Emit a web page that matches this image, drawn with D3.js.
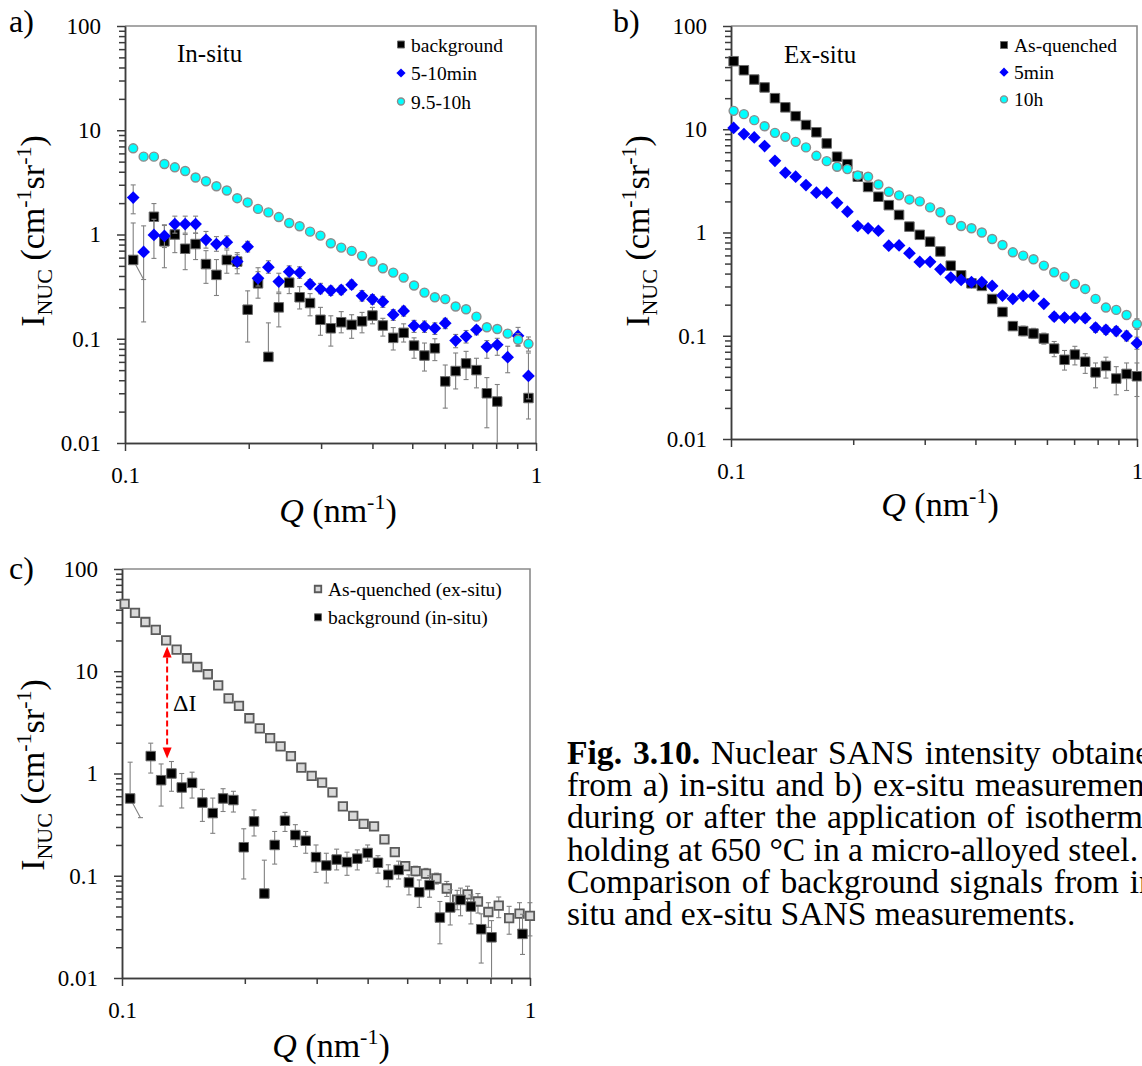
<!DOCTYPE html>
<html>
<head>
<meta charset="utf-8">
<script src="https://cdn.jsdelivr.net/npm/d3@7"></script>
<style>
  body { margin: 0; background: #fff; }
  svg { display: block; }
  svg text { font-family: "Liberation Serif", "Times New Roman", serif; }
</style>
</head>
<body>
<svg id="fig" width="1142" height="1066" font-family="Liberation Serif, Times New Roman, serif"></svg>
<script>
// ---- scattering vector Q (nm^-1) ----
const Q_IN_SITU = [0.1047,0.1110,0.1176,0.1247,0.1322,0.1401,0.1485,0.1574,0.1669,0.1769,
  0.1875,0.1988,0.2107,0.2233,0.2367,0.2509,0.2660,0.2820,0.2989,0.3168,
  0.3358,0.3560,0.3773,0.4000,0.4240,0.4494,0.4764,0.5050,0.5353,0.5674,
  0.6014,0.6375,0.6758,0.7163,0.7593,0.8049,0.8532,0.9043,0.9586];
const Q_EX_SITU = [0.1015,0.1076,0.1141,0.1210,0.1283,0.1361,0.1443,0.1530,0.1623,0.1721,
  0.1825,0.1935,0.2052,0.2176,0.2307,0.2447,0.2594,0.2751,0.2917,0.3093,
  0.3280,0.3478,0.3688,0.3911,0.4147,0.4398,0.4663,0.4945,0.5244,0.5560,
  0.5896,0.6252,0.6630,0.7030,0.7455,0.7905,0.8383,0.8889,0.9426,0.9995];

// ---- in-situ: background ----
const BG_IN_SITU = [0.57,null,1.48,0.86,1.0,0.73,0.81,0.52,0.41,0.57,
  0.55,0.19,0.34,0.067,0.20,0.345,0.25,0.22,0.152,0.126,
  0.144,0.136,0.147,0.167,0.134,0.102,0.114,0.086,0.069,0.081,
  0.039,0.049,0.058,0.050,0.030,0.025,null,null,0.027];
const BG_IN_SITU_LO = [null,null,1.01,0.48,0.67,0.46,0.575,0.34,0.26,0.425,
  0.42,0.093,0.245,null,0.13,0.271,0.193,0.166,0.108,0.085,
  0.114,0.101,0.114,0.139,0.106,0.078,0.093,0.065,0.049,0.0617,
  0.0216,0.033,0.0406,0.0338,0.014,0.005,null,null,0.017];
const BG_IN_SITU_HI = [1.29,null,1.98,1.24,1.31,1.0,1.03,0.70,0.575,0.71,
  0.67,0.288,0.44,0.142,0.271,0.416,0.316,0.271,0.20,0.166,
  0.182,0.17,0.179,0.2,0.157,0.128,0.139,0.102,0.091,0.1,
  0.056,0.073,0.0757,0.065,0.0424,0.0364,null,null,0.042];
// lower end of the first background point's error bar (drawn towards the 2nd Q)
const BG_FIRST_LOWER_END = 0.37;

// ---- in-situ: 5-10 min ----
const MIN5_10 = [2.26,0.68,0.99,0.97,1.26,1.26,1.26,0.89,0.81,0.845,
  0.55,0.765,0.38,0.486,0.354,0.44,0.43,0.334,0.30,0.29,
  0.294,0.33,0.258,0.239,0.227,0.17,0.185,0.133,0.131,0.126,
  0.141,0.096,0.105,0.122,0.0836,0.0875,0.0665,0.1066,0.044];
const MIN5_10_LO = [1.58,0.145,0.59,0.75,1.03,1.03,1.03,0.74,0.69,0.74,
  0.47,0.68,0.32,0.425,0.28,0.39,0.38,0.30,0.27,0.26,
  0.265,0.30,0.23,0.215,0.20,0.15,0.165,0.115,0.115,0.11,
  0.125,0.082,0.091,0.109,0.065,0.0694,0.0472,0.0847,0.0265];
const MIN5_10_HI = [2.99,1.21,1.40,1.22,1.50,1.50,1.50,1.07,0.955,0.97,
  0.64,0.86,0.48,0.56,0.425,0.50,0.49,0.37,0.34,0.32,
  0.325,0.365,0.29,0.265,0.255,0.19,0.205,0.15,0.148,0.142,
  0.157,0.11,0.12,0.133,0.096,0.101,0.0847,0.1285,0.073];

// ---- in-situ: 9.5-10 h ----
const H9_5_10 = [6.71,5.58,5.58,4.75,4.41,4.07,3.52,3.24,2.90,2.64,
  2.23,2.03,1.76,1.63,1.47,1.29,1.20,1.065,0.976,0.825,
  0.749,0.697,0.624,0.55,0.475,0.431,0.386,0.324,0.277,0.25,
  0.24,0.204,0.192,0.163,0.129,0.124,0.112,0.0977,0.0894];
const H9_5_10_LO = [null,null,null,null,null,null,null,null,null,null,
  null,null,null,null,null,null,null,null,null,null,
  null,null,null,null,null,null,null,null,null,null,
  null,null,null,null,0.12,0.115,0.104,0.086,0.076];
const H9_5_10_HI = [null,null,null,null,null,null,null,null,null,null,
  null,null,null,null,null,null,null,null,null,null,
  null,null,null,null,null,null,null,null,null,null,
  null,null,null,null,0.138,0.133,0.121,0.112,0.104];

// ---- ex-situ: as-quenched ----
const AS_QUENCHED = [45.6,37.3,30.3,25.4,20.0,16.3,13.4,11.0,9.35,7.29,
  5.42,4.59,3.47,2.76,2.22,1.84,1.48,1.14,0.95,0.815,
  0.655,0.477,0.385,0.322,0.304,0.227,0.17,0.124,0.111,0.105,
  0.094,0.075,0.0585,0.0657,0.056,0.0442,0.051,0.0385,0.0427,0.0405];
const AS_QUENCHED_LO = [null,null,null,null,null,null,null,null,null,null,
  null,null,null,null,null,null,null,null,null,null,
  null,null,null,null,0.29,0.215,0.158,0.113,0.1,0.094,
  0.083,0.0627,0.0465,0.0522,0.0432,0.0313,0.0389,0.0268,0.0295,0.0258];
const AS_QUENCHED_HI = [null,null,null,null,null,null,null,null,null,null,
  null,null,null,null,null,null,null,null,null,null,
  null,null,null,null,0.32,0.24,0.183,0.137,0.124,0.118,
  0.106,0.088,0.072,0.079,0.067,0.0545,0.062,0.0502,0.0545,0.0545];

// ---- ex-situ: 5 min ----
const MIN5 = [10.3,8.97,8.33,6.87,4.95,3.79,3.47,2.88,2.43,2.43,
  1.94,1.59,1.156,1.098,1.04,0.745,0.749,0.63,0.519,0.52,
  0.44,0.366,0.347,0.33,0.33,0.304,0.245,0.228,0.243,0.243,
  0.204,0.153,0.15,0.15,0.148,0.120,0.114,0.111,0.0997,0.0848];
const MIN5_LO = [null,null,null,null,null,null,null,null,null,null,
  null,null,null,null,null,null,null,null,null,null,
  null,null,null,null,null,null,null,null,null,null,
  null,0.14,0.138,0.138,0.135,0.108,0.103,0.1,0.089,0.074];
const MIN5_HI = [null,null,null,null,null,null,null,null,null,null,
  null,null,null,null,null,null,null,null,null,null,
  null,null,null,null,null,null,null,null,null,null,
  null,0.167,0.163,0.163,0.162,0.132,0.126,0.123,0.111,0.097];

// ---- ex-situ: 10 h ----
const H10 = [15.07,14.0,12.25,10.7,9.23,8.44,7.55,6.67,5.53,4.91,
  4.33,4.11,3.57,3.47,2.92,2.48,2.29,2.09,2.00,1.75,
  1.57,1.32,1.156,1.10,1.0,0.865,0.757,0.643,0.597,0.551,
  0.478,0.412,0.374,0.318,0.284,0.2275,0.1875,0.178,0.159,0.130];
const H10_LO = [null,null,null,null,null,null,null,null,null,null,
  null,null,null,null,null,null,null,null,null,null,
  null,null,null,null,null,null,null,null,null,null,
  null,null,null,null,null,null,0.178,0.168,0.148,0.115];
const H10_HI = [null,null,null,null,null,null,null,null,null,null,
  null,null,null,null,null,null,null,null,null,null,
  null,null,null,null,null,null,null,null,null,null,
  null,null,null,null,null,null,0.198,0.19,0.172,0.146];

// ---- ΔI marker (panel c) ----
const DELTA_I_Q = 0.129;
const DELTA_I_TOP = 17.5;
const DELTA_I_BOTTOM = 1.4;

// ---- axes ----
const X_DOMAIN = [0.1, 1];
const Y_DOMAIN = [0.01, 100];
const X_MAJOR = [0.1, 1];
const X_MAJOR_LABELS = ["0.1", "1"];
const Y_MAJOR = [0.01, 0.1, 1, 10, 100];
const Y_MAJOR_LABELS = ["0.01", "0.1", "1", "10", "100"];

const CAPTION = [
  [["Fig. 3.10.", true], [" Nuclear SANS intensity obtained", false]],
  [["from a) in-situ and b) ex-situ measurements", false]],
  [["during or after the application of isothermal", false]],
  [["holding at 650 °C in a micro-alloyed steel. c)", false]],
  [["Comparison of background signals from in-", false]],
  [["situ and ex-situ SANS measurements.", false]]
];

const SERIF = "Liberation Serif, Times New Roman, serif";
const svg = d3.select("#fig");
const AXIS_COLOR = "#3c3c3c";
const FRAME_COLOR = "#8a8a8a";
const ERR_COLOR = "#808080";

function symbolPath(shape, size) {
  if (shape === "circle") return d3.symbol(d3.symbolCircle, size * size * Math.PI / 4)();
  return d3.symbol(d3.symbolSquare, size * size)();
}

function drawMarkers(g, pts, st) {
  g.selectAll(null).data(pts).join("path")
    .attr("d", symbolPath(st.shape, st.size))
    .attr("transform", d => `translate(${d[0]},${d[1]})` + (st.shape === "diamond" ? " rotate(45)" : ""))
    .attr("fill", st.fill)
    .attr("stroke", st.stroke || "none")
    .attr("stroke-width", st.sw || 0);
}

function drawPanel(cfg) {
  const g = svg.append("g").attr("font-family", SERIF);
  const x = d3.scaleLog().domain(X_DOMAIN).range([cfg.x0, cfg.x1]);
  const y = d3.scaleLog().domain(Y_DOMAIN).range([cfg.y1, cfg.y0]);

  const clipId = "clip-" + cfg.id;
  g.append("clipPath").attr("id", clipId).append("rect")
    .attr("x", cfg.x0 - 20).attr("y", cfg.y0).attr("width", cfg.x1 - cfg.x0 + 40).attr("height", cfg.y1 - cfg.y0);

  // top and right frame
  g.append("path").attr("d", `M${cfg.x0},${cfg.y0}H${cfg.x1}V${cfg.y1}`)
    .attr("fill", "none").attr("stroke", FRAME_COLOR).attr("stroke-width", 1.6);

  const isMajor = (list) => (t) => list.some(m => Math.abs(m - t) / m < 1e-6);
  const yMinor = y.ticks().filter(t => !isMajor(Y_MAJOR)(t));
  const xMinor = x.ticks().filter(t => !isMajor(X_MAJOR)(t));

  const styleAxis = (sel) => {
    sel.attr("font-family", SERIF).attr("font-size", 23);
    sel.selectAll("path, line").attr("stroke", AXIS_COLOR).attr("stroke-width", 1.5);
    sel.selectAll("text").attr("fill", "#000");
  };

  g.append("g").attr("transform", `translate(${cfg.x0},0)`)
    .call(d3.axisLeft(y).tickValues(yMinor).tickSize(6).tickSizeOuter(0).tickFormat(""))
    .call(styleAxis);
  g.append("g").attr("transform", `translate(${cfg.x0},0)`)
    .call(d3.axisLeft(y).tickValues(Y_MAJOR).tickSize(8).tickSizeOuter(0).tickPadding(16)
      .tickFormat((d, i) => Y_MAJOR_LABELS[i]))
    .call(styleAxis);
  g.append("g").attr("transform", `translate(0,${cfg.y1})`)
    .call(d3.axisBottom(x).tickValues(xMinor).tickSize(6).tickSizeOuter(0).tickFormat(""))
    .call(styleAxis);
  g.append("g").attr("transform", `translate(0,${cfg.y1})`)
    .call(d3.axisBottom(x).tickValues(X_MAJOR).tickSize(8).tickSizeOuter(0).tickPadding(16)
      .tickFormat((d, i) => X_MAJOR_LABELS[i]))
    .call(styleAxis);

  // series
  cfg.series.forEach(s => {
    const eb = g.append("g").attr("clip-path", `url(#${clipId})`)
      .attr("stroke", s.errColor || ERR_COLOR).attr("stroke-width", 1.1).attr("fill", "none");
    s.q.forEach((q, i) => {
      const v = s.v[i];
      if (v == null) { if (s.lo[i] == null || s.hi[i] == null) return; }
      const lo = s.lo[i], hi = s.hi[i];
      if (lo == null && hi == null) return;
      const px = x(q);
      const top = hi != null ? y(hi) : y(v);
      const bot = lo != null ? y(lo) : y(v);
      eb.append("line").attr("x1", px).attr("x2", px).attr("y1", top).attr("y2", bot);
      if (hi != null) eb.append("line").attr("x1", px - 2.5).attr("x2", px + 2.5).attr("y1", top).attr("y2", top);
      if (lo != null && y(lo) <= cfg.y1) eb.append("line").attr("x1", px - 2.5).attr("x2", px + 2.5).attr("y1", bot).attr("y2", bot);
    });
    if (s.stub) {
      const x0 = x(s.q[0]), y0 = y(s.v[0]);
      const x1 = x(s.q[1]), y1 = y(s.stub);
      eb.append("line").attr("x1", x0).attr("y1", y0).attr("x2", x1).attr("y2", y1);
      eb.append("line").attr("x1", x1 - 2.5).attr("x2", x1 + 2.5).attr("y1", y1).attr("y2", y1);
    }
    const pts = s.q.map((q, i) => [q, s.v[i]]).filter(d => d[1] != null).map(d => [x(d[0]), y(d[1])]);
    drawMarkers(g.append("g"), pts, s);
  });

  // legend
  cfg.series.forEach((s, i) => {
    const ly = cfg.legend.y + i * cfg.legend.dy;
    drawMarkers(g.append("g"), [[cfg.legend.x, ly]], Object.assign({}, s, { size: s.legendSize }));
    g.append("text").attr("x", cfg.legend.x + 10).attr("y", ly + 7)
      .attr("font-size", 19.5).text(s.name);
  });

  // panel letter and inner title
  g.append("text").attr("x", cfg.letter.x).attr("y", cfg.letter.y).attr("font-size", 32).text(cfg.letter.t);
  if (cfg.inner) g.append("text").attr("x", cfg.inner.x).attr("y", cfg.inner.y).attr("font-size", 25).text(cfg.inner.t);

  // x title
  const xt = g.append("text").attr("x", cfg.xTitle.x).attr("y", cfg.xTitle.y)
    .attr("font-size", 34).attr("text-anchor", "middle");
  xt.append("tspan").attr("font-style", "italic").text("Q");
  xt.append("tspan").text(" (nm");
  xt.append("tspan").attr("dy", -13).attr("font-size", 22).text("-1");
  xt.append("tspan").attr("dy", 13).text(")");

  // y title
  const yt = g.append("text").attr("transform", `translate(${cfg.yTitle.x},${cfg.yTitle.y}) rotate(-90)`)
    .attr("font-size", 34).attr("text-anchor", "middle");
  yt.append("tspan").text("I");
  yt.append("tspan").attr("dy", 8).attr("font-size", 22).text("NUC");
  yt.append("tspan").attr("dy", -8).text(" (cm");
  yt.append("tspan").attr("dy", -13).attr("font-size", 22).text("-1");
  yt.append("tspan").attr("dy", 13).text("sr");
  yt.append("tspan").attr("dy", -13).attr("font-size", 22).text("-1");
  yt.append("tspan").attr("dy", 13).text(")");

  return { g, x, y };
}

const sq = (name, q, v, lo, hi, extra) => Object.assign({ name, q, v, lo, hi }, extra);

drawPanel({
  id: "a", x0: 125, x1: 536, y0: 26, y1: 443,
  letter: { x: 9, y: 32, t: "a)" },
  inner: { x: 177, y: 62, t: "In-situ" },
  xTitle: { x: 338, y: 522 }, yTitle: { x: 44, y: 231 },
  legend: { x: 401, y: 44.5, dy: 28.5 },
  series: [
    sq("background", Q_IN_SITU, BG_IN_SITU, BG_IN_SITU_LO, BG_IN_SITU_HI,
      { shape: "square", size: 9.5, fill: "#000", stroke: "#6a6a6a", sw: 1, legendSize: 7, stub: BG_FIRST_LOWER_END }),
    sq("5-10min", Q_IN_SITU, MIN5_10, MIN5_10_LO, MIN5_10_HI,
      { shape: "diamond", size: 9, fill: "#0000ff", legendSize: 6.5 }),
    sq("9.5-10h", Q_IN_SITU, H9_5_10, H9_5_10_LO, H9_5_10_HI,
      { shape: "circle", size: 9, fill: "#00ffff", stroke: "#8c8c8c", sw: 1.4, legendSize: 7 })
  ]
});

drawPanel({
  id: "b", x0: 731, x1: 1137, y0: 26, y1: 439,
  letter: { x: 613, y: 32, t: "b)" },
  inner: { x: 784, y: 63, t: "Ex-situ" },
  xTitle: { x: 940, y: 516 }, yTitle: { x: 649, y: 231 },
  legend: { x: 1004, y: 45, dy: 27.2 },
  series: [
    sq("As-quenched", Q_EX_SITU, AS_QUENCHED, AS_QUENCHED_LO, AS_QUENCHED_HI,
      { shape: "square", size: 9.5, fill: "#000", stroke: "#6a6a6a", sw: 1, legendSize: 7 }),
    sq("5min", Q_EX_SITU, MIN5, MIN5_LO, MIN5_HI,
      { shape: "diamond", size: 9, fill: "#0000ff", legendSize: 6.5 }),
    sq("10h", Q_EX_SITU, H10, H10_LO, H10_HI,
      { shape: "circle", size: 9, fill: "#00ffff", stroke: "#8c8c8c", sw: 1.4, legendSize: 7 })
  ]
});

const pc = drawPanel({
  id: "c", x0: 122, x1: 530, y0: 569, y1: 978,
  letter: { x: 9, y: 579, t: "c)" },
  xTitle: { x: 331, y: 1057 }, yTitle: { x: 44, y: 775 },
  legend: { x: 318, y: 589, dy: 28.3 },
  series: [
    sq("As-quenched (ex-situ)", Q_EX_SITU, AS_QUENCHED, AS_QUENCHED_LO, AS_QUENCHED_HI,
      { shape: "square", size: 8.5, fill: "#d9d9d9", stroke: "#5a5a5a", sw: 1.8, legendSize: 6.5 }),
    sq("background (in-situ)", Q_IN_SITU, BG_IN_SITU, BG_IN_SITU_LO, BG_IN_SITU_HI,
      { shape: "square", size: 9.5, fill: "#000", stroke: "#6a6a6a", sw: 1, legendSize: 7, stub: BG_FIRST_LOWER_END })
  ]
});

// ΔI double arrow in panel c
(function () {
  const ax = pc.x(DELTA_I_Q), yt = pc.y(DELTA_I_TOP), yb = pc.y(DELTA_I_BOTTOM);
  const head = 11, hw = 4.5;
  pc.g.append("line").attr("x1", ax).attr("x2", ax).attr("y1", yt + head).attr("y2", yb - head)
    .attr("stroke", "#ff0000").attr("stroke-width", 2).attr("stroke-dasharray", "6,3");
  pc.g.append("path").attr("d", `M${ax},${yt}L${ax - hw},${yt + head}L${ax + hw},${yt + head}Z`).attr("fill", "#ff0000");
  pc.g.append("path").attr("d", `M${ax},${yb}L${ax - hw},${yb - head}L${ax + hw},${yb - head}Z`).attr("fill", "#ff0000");
  pc.g.append("text").attr("x", ax + 6).attr("y", (yt + yb) / 2 + 9).attr("font-size", 24).text("ΔI");
})();

// figure caption, justified (all lines but the last) to a common width
const CAPTION_X = 567, CAPTION_WIDTH = 600, CAPTION_SIZE = 33.6;
const cap = svg.append("g").attr("font-family", SERIF);
CAPTION.forEach((line, i) => {
  const t = cap.append("text").attr("x", CAPTION_X).attr("y", 764 + i * 32.2).attr("font-size", CAPTION_SIZE);
  line.forEach(([txt, bold]) => t.append("tspan").attr("font-weight", bold ? "bold" : null).text(txt));
  if (i < CAPTION.length - 1) {
    const natural = t.node().getComputedTextLength();
    const spaces = line.map(d => d[0]).join("").split(" ").length - 1;
    if (spaces > 0 && natural < CAPTION_WIDTH) t.attr("word-spacing", (CAPTION_WIDTH - natural) / spaces);
  }
});
</script>
</body>
</html>
